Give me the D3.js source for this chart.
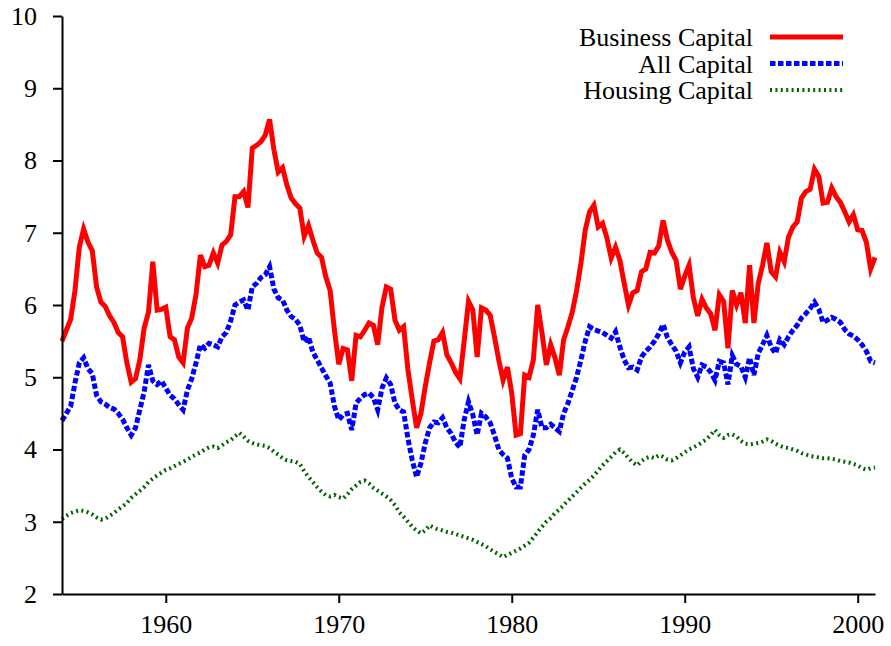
<!DOCTYPE html>
<html>
<head>
<meta charset="utf-8">
<script src="https://cdn.jsdelivr.net/npm/d3@7"></script>
<style>
  body { margin: 0; background: #fff; }
  text { font-family: "Liberation Serif", "Times New Roman", serif; fill: #000; }
</style>
</head>
<body>
<svg id="chart" width="891" height="646"></svg>
<script>
//Capital series - quarterly, 1954Q1 to 2001Q1

const startYear = 1954;

const businessCapital = [
  5.50,5.65,5.80,6.20,6.80,7.05,6.87,6.75,6.25,6.04,
  5.98,5.85,5.76,5.62,5.56,5.20,4.93,4.98,5.24,5.68,
  5.90,6.60,5.93,5.94,5.97,5.56,5.52,5.28,5.20,5.68,
  5.82,6.15,6.69,6.53,6.55,6.72,6.58,6.83,6.88,6.97,
  7.50,7.50,7.57,7.35,8.17,8.21,8.26,8.35,8.57,8.15,
  7.84,7.90,7.66,7.48,7.40,7.34,6.95,7.10,6.90,6.72,
  6.66,6.39,6.20,5.65,5.18,5.40,5.38,4.95,5.58,5.56,
  5.65,5.75,5.72,5.45,5.97,6.25,6.22,5.79,5.65,5.70,
  5.10,4.69,4.30,4.50,4.87,5.20,5.50,5.52,5.62,5.31,
  5.20,5.07,4.98,5.50,6.05,5.93,5.28,5.96,5.93,5.86,
  5.56,5.24,4.96,5.14,4.78,4.20,4.22,5.03,5.00,5.24,
  6.00,5.61,5.17,5.45,5.27,5.03,5.52,5.70,5.90,6.20,
  6.58,7.04,7.29,7.38,7.08,7.13,6.93,6.65,6.80,6.62,
  6.30,6.00,6.17,6.20,6.46,6.50,6.73,6.72,6.82,7.17,
  6.90,6.73,6.62,6.22,6.40,6.55,6.10,5.85,6.08,5.96,
  5.88,5.65,6.14,6.05,5.40,6.20,6.00,6.17,5.75,6.55,
  5.75,6.30,6.55,6.86,6.46,6.39,6.73,6.60,6.94,7.08,
  7.15,7.48,7.57,7.60,7.88,7.78,7.41,7.42,7.62,7.50,
  7.42,7.29,7.15,7.25,7.04,7.03,6.87,6.50,6.66
];

const allCapital = [
  4.40,4.50,4.60,4.92,5.20,5.27,5.12,5.05,4.75,4.66,
  4.63,4.58,4.56,4.50,4.42,4.30,4.20,4.30,4.55,4.80,
  5.17,4.95,4.90,4.95,4.85,4.75,4.70,4.62,4.55,4.82,
  4.98,5.20,5.45,5.40,5.47,5.45,5.42,5.56,5.62,5.78,
  6.00,6.04,6.07,5.93,6.25,6.30,6.38,6.42,6.53,6.22,
  6.10,6.07,5.93,5.84,5.80,5.72,5.49,5.56,5.35,5.24,
  5.13,5.02,4.92,4.60,4.41,4.48,4.50,4.27,4.64,4.71,
  4.76,4.78,4.72,4.55,4.85,4.99,4.90,4.64,4.55,4.52,
  4.15,3.85,3.62,3.81,4.09,4.30,4.38,4.37,4.44,4.30,
  4.22,4.10,4.03,4.41,4.66,4.48,4.20,4.50,4.45,4.37,
  4.20,4.00,3.93,3.88,3.60,3.48,3.48,3.92,4.00,4.20,
  4.55,4.30,4.30,4.35,4.30,4.25,4.50,4.64,4.82,5.00,
  5.24,5.50,5.70,5.66,5.64,5.62,5.58,5.54,5.63,5.42,
  5.24,5.13,5.14,5.10,5.28,5.36,5.42,5.50,5.60,5.73,
  5.55,5.45,5.36,5.20,5.35,5.42,5.12,5.00,5.17,5.14,
  5.07,4.96,5.22,5.20,4.90,5.30,5.18,5.15,5.00,5.27,
  5.03,5.33,5.45,5.58,5.42,5.33,5.52,5.45,5.56,5.65,
  5.72,5.82,5.88,5.95,6.04,5.94,5.76,5.79,5.83,5.80,
  5.76,5.66,5.60,5.57,5.52,5.45,5.36,5.22,5.20
];

const housingCapital = [
  3.04,3.08,3.12,3.14,3.16,3.15,3.13,3.10,3.06,3.03,
  3.04,3.08,3.12,3.17,3.21,3.26,3.33,3.38,3.43,3.48,
  3.55,3.60,3.64,3.68,3.72,3.74,3.77,3.80,3.83,3.86,
  3.90,3.93,3.96,4.00,4.03,4.04,4.02,4.06,4.10,4.13,
  4.18,4.23,4.18,4.12,4.09,4.07,4.06,4.05,4.02,3.97,
  3.93,3.88,3.85,3.84,3.83,3.80,3.70,3.62,3.55,3.48,
  3.42,3.37,3.35,3.37,3.34,3.32,3.38,3.45,3.50,3.55,
  3.57,3.53,3.47,3.43,3.39,3.35,3.30,3.23,3.13,3.07,
  3.00,2.93,2.88,2.84,2.88,2.95,2.92,2.89,2.88,2.86,
  2.85,2.83,2.81,2.79,2.77,2.75,2.72,2.69,2.66,2.62,
  2.58,2.55,2.51,2.54,2.57,2.60,2.63,2.67,2.71,2.78,
  2.86,2.93,3.00,3.05,3.12,3.17,3.23,3.29,3.35,3.41,
  3.47,3.53,3.58,3.64,3.71,3.78,3.84,3.90,3.96,4.00,
  3.95,3.88,3.82,3.78,3.84,3.88,3.90,3.88,3.92,3.90,
  3.86,3.85,3.88,3.92,3.96,4.00,4.03,4.06,4.10,4.14,
  4.20,4.27,4.20,4.16,4.20,4.21,4.18,4.12,4.08,4.07,
  4.08,4.09,4.11,4.14,4.12,4.08,4.05,4.03,4.02,4.00,
  3.98,3.95,3.93,3.91,3.90,3.89,3.88,3.88,3.87,3.86,
  3.84,3.83,3.82,3.80,3.78,3.74,3.72,3.74,3.75
];

const xTicks = [1960, 1970, 1980, 1990, 2000];
const yTicks = [2, 3, 4, 5, 6, 7, 8, 9, 10];

const seriesNames = ["Business Capital", "All Capital", "Housing Capital"];

//line styles for each series
const styles = [
  {color: "#ff0000", width: 5, dash: null},
  {color: "#0000ff", width: 5, dash: "5.5,2.5"},
  {color: "#006400", width: 4, dash: "2,3.4"}
];

const series = [businessCapital, allCapital, housingCapital].map((vals, k) => ({
  name: seriesNames[k],
  style: styles[k],
  points: vals.map((v, i) => ({year: startYear + i / 4, value: v}))
}));

const svg = d3.select("#chart");

//scales
const x = d3.scaleLinear()
            .domain([startYear, startYear + (businessCapital.length - 1) / 4])
            .range([62, 875]);

const y = d3.scaleLinear()
            .domain([2, 10])
            .range([594, 16]);

const line = d3.line()
               .x(d => x(d.year))
               .y(d => y(d.value));

//lines, housing first so business sits on top
svg.append("g")
   .selectAll("path")
   .data(series.slice().reverse())
   .enter().append("path")
   .attr("d", d => line(d.points))
   .attr("fill", "none")
   .attr("stroke", d => d.style.color)
   .attr("stroke-width", d => d.style.width)
   .attr("stroke-dasharray", d => d.style.dash)
   .attr("stroke-linejoin", "miter");

//x axis
const xAxis = svg.append("g")
                 .attr("transform", "translate(0, 594)")
                 .call(d3.axisBottom(x)
                         .tickValues(xTicks)
                         .tickFormat(d3.format("d"))
                         .tickSize(9)
                         .tickSizeOuter(0)
                         .tickPadding(12));

//y axis
const yAxis = svg.append("g")
                 .attr("transform", "translate(62, 0)")
                 .call(d3.axisLeft(y)
                         .tickValues(yTicks)
                         .tickSize(9)
                         .tickSizeOuter(0)
                         .tickPadding(16));

svg.selectAll(".domain, .tick line")
   .attr("stroke", "#000")
   .attr("stroke-width", 2);

svg.selectAll(".tick text")
   .style("font-family", "'Liberation Serif', 'Times New Roman', serif")
   .style("font-size", "26px")
   .attr("fill", "#000");

//legend
const legend = svg.append("g")
                  .selectAll("g")
                  .data(series)
                  .enter().append("g")
                  .attr("transform", (d, i) => `translate(0, ${37 + i * 26.5})`);

legend.append("text")
      .attr("x", 753)
      .attr("y", 9)
      .attr("text-anchor", "end")
      .style("font-size", "26px")
      .text(d => d.name);

legend.append("line")
      .attr("x1", 770)
      .attr("x2", 843)
      .attr("stroke", d => d.style.color)
      .attr("stroke-width", d => d.style.width)
      .attr("stroke-dasharray", d => d.style.dash);
</script>
</body>
</html>
